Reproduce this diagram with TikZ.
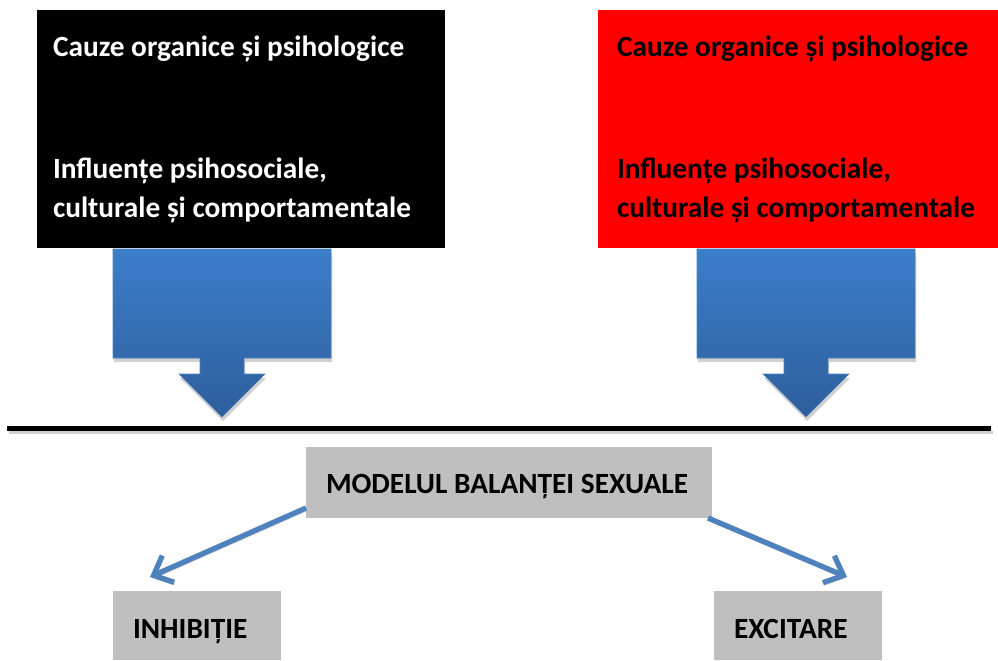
\documentclass[tikz,border=0pt]{standalone}
\usepackage{fontspec}
\setmainfont{Carlito}
\usetikzlibrary{calc,arrows.meta}

\definecolor{boxgray}{RGB}{191,191,191}
\definecolor{shadowgray}{RGB}{208,208,208}
\definecolor{arrowblue}{RGB}{79,129,189}
\definecolor{blocktop}{RGB}{60,126,202}
\definecolor{blockbot}{RGB}{46,94,156}

\begin{document}
\begin{tikzpicture}[x=0.75pt,y=-0.75pt,every node/.style={outer sep=0pt,inner sep=0pt}]
\tikzstyle{cause}=[anchor=north west,minimum width=408*0.75pt,minimum height=238*0.75pt]
\tikzstyle{greybox}=[anchor=north west,fill=boxgray,minimum width=168*0.75pt,minimum height=69*0.75pt]
\tikzstyle{txt}=[anchor=base west,font=\bfseries\fontsize{22}{29}\selectfont]
\tikzstyle{bigarrow}=[top color=blocktop,bottom color=blockbot,draw=arrowblue,line width=0.5pt,
  preaction={fill=shadowgray,transform canvas={shift={(1,4)}}}]
\tikzstyle{link}=[arrowblue,line width=4pt,-{Straight Barb[length=12pt,width=22pt]},
  preaction={draw=shadowgray,transform canvas={shift={(1,3)}}}]

\useasboundingbox (0,0) rectangle (998,660);

% causes
\node (black_node) at (37,10) [cause,fill=black] {};
\node (red_node) at (598,10) [cause,fill=red,minimum width=402*0.75pt] {};
\node (org_b) at ($(black_node.north west)+(16,47)$) [txt,white] {Cauze organice și psihologice};
\node (inf_b) at ($(black_node.north west)+(16,168)$) [txt,white] {Influențe psihosociale,};
\node (cul_b) at ($(black_node.north west)+(16,207)$) [txt,white] {culturale și comportamentale};
\node (org_r) at ($(red_node.north west)+(19,47)$) [txt] {Cauze organice și psihologice};
\node (inf_r) at ($(red_node.north west)+(19,168)$) [txt] {Influențe psihosociale,};
\node (cul_r) at ($(red_node.north west)+(19,207)$) [txt] {culturale și comportamentale};

% block arrows
\foreach \cx in {222,806}
  \path[bigarrow] ({\cx-109},249) -- ({\cx+109},249) -- ({\cx+109},358) -- ({\cx+22},358)
    -- ({\cx+22},374) -- ({\cx+43},374) -- (\cx,417) -- ({\cx-43},374) -- ({\cx-22},374)
    -- ({\cx-22},358) -- ({\cx-109},358) -- cycle;

% balance line
\draw[shadowgray,line width=2.5pt] (9,432.5) -- (993,432.5);
\draw[line width=3.75pt] (7,428) -- (991,428);

% model
\node (model_node) at (306,447) [greybox,minimum width=406*0.75pt,minimum height=71*0.75pt] {};
\node (model_txt) at ($(model_node.north west)+(20,46)$) [txt] {MODELUL BALANȚEI SEXUALE};
\node (inh_node) at (113,591) [greybox] {};
\node (inh_txt) at ($(inh_node.north west)+(20,47)$) [txt] {INHIBIȚIE};
\node (exc_node) at (714,591) [greybox] {};
\node (exc_txt) at ($(exc_node.north west)+(20,47)$) [txt] {EXCITARE};

\coordinate (inh_tip) at ($(inh_node.north west)+(37,-14)$);
\coordinate (exc_tip) at ($(exc_node.north west)+(133,-14)$);
\draw[link] ($(model_node.south west)+(0,-10)$) -- (inh_tip);
\draw[link] ($(model_node.south east)+(-4,0)$) -- (exc_tip);

\end{tikzpicture}
\end{document}
